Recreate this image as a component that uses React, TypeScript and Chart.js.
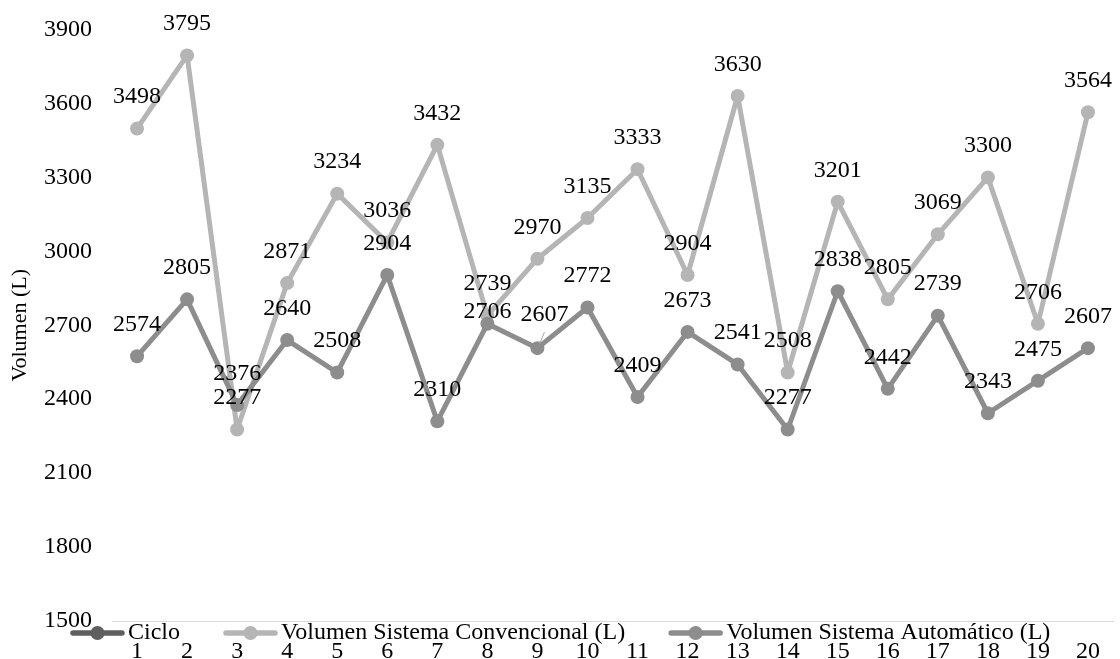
import React, { useEffect, useRef } from 'react';
import { Chart, registerables } from 'chart.js';

Chart.register(...registerables);

const cycles = ['1', '2', '3', '4', '5', '6', '7', '8', '9', '10', '11', '12', '13', '14', '15', '16', '17', '18', '19', '20'];
const conventional = [3498, 3795, 2277, 2871, 3234, 3036, 3432, 2739, 2970, 3135, 3333, 2904, 3630, 2508, 3201, 2805, 3069, 3300, 2706, 3564];
const automatic = [2574, 2805, 2376, 2640, 2508, 2904, 2310, 2706, 2607, 2772, 2409, 2673, 2541, 2277, 2838, 2442, 2739, 2343, 2475, 2607];
const cicloValues: number[] = [];
const seriesNames = ['Ciclo', 'Volumen Sistema Convencional (L)', 'Volumen Sistema Automático (L)'];
const yMin = 1500;
const yMax = 3900;
const yStep = 300;
const yTitle = 'Volumen (L)';

const FONT = "'Liberation Serif', 'Times New Roman', serif";
const COLORS = ['#5f5f5f', '#b5b5b5', '#8d8d8d'];

const labelPlugin = {
  id: 'valueLabels',
  afterDatasetsDraw(chart: any) {
    const ctx = chart.ctx;
    const overrides: Record<string, { dx: number; dy: number; leader?: boolean }> = {
      '0:7': { dx: 0, dy: 12 },
      '0:8': { dx: 7, dy: 33, leader: true },
    };
    ctx.save();
    ctx.font = `24px ${FONT}`;
    ctx.fillStyle = '#000';
    ctx.textAlign = 'center';
    ctx.textBaseline = 'middle';
    chart.data.datasets.forEach((ds: any, di: number) => {
      if (!ds.showValues) return;
      const meta = chart.getDatasetMeta(di);
      meta.data.forEach((el: any, i: number) => {
        const o = overrides[`${di}:${i}`] || { dx: 0, dy: 31.5 };
        const tx = el.x + o.dx;
        const ty = el.y - o.dy;
        if (o.leader) {
          ctx.save();
          ctx.strokeStyle = '#a6a6a6';
          ctx.lineWidth = 1;
          ctx.beginPath();
          ctx.moveTo(el.x + 2, el.y - 4);
          ctx.lineTo(el.x + 7, el.y - 16);
          ctx.stroke();
          ctx.restore();
        }
        ctx.fillText(String(ds.data[i]), tx, ty);
      });
    });
    ctx.restore();
  },
};

const legendPlugin = {
  id: 'bottomLegend',
  afterDraw(chart: any) {
    const ctx = chart.ctx;
    ctx.save();
    ctx.font = `24px ${FONT}`;
    const items = seriesNames.map((name, i) => ({ name, color: COLORS[i], w: ctx.measureText(name).width }));
    const sw = 55;
    const tgap = 3;
    const gap = 43;
    let x = 70;
    const y = 633;
    items.forEach((it) => {
      ctx.strokeStyle = it.color;
      ctx.lineWidth = 5.5;
      ctx.lineCap = 'round';
      ctx.beginPath();
      ctx.moveTo(x + 3, y);
      ctx.lineTo(x + sw - 3, y);
      ctx.stroke();
      ctx.fillStyle = it.color;
      ctx.beginPath();
      ctx.arc(x + sw / 2, y, 7, 0, Math.PI * 2);
      ctx.fill();
      ctx.fillStyle = '#000';
      ctx.textAlign = 'left';
      ctx.textBaseline = 'middle';
      ctx.fillText(it.name, x + sw + tgap, y);
      x += sw + tgap + it.w + gap;
    });
    ctx.restore();
  },
};

export default function App() {
  const ref = useRef<HTMLCanvasElement | null>(null);
  useEffect(() => {
    if (!ref.current) return;
    const mk = (label: string, data: number[], color: string, order: number, showValues: boolean) => ({
      label,
      data,
      borderColor: color,
      backgroundColor: color,
      pointBackgroundColor: color,
      pointBorderWidth: 0,
      pointRadius: 7,
      borderWidth: 5,
      borderCapStyle: 'round',
      borderJoinStyle: 'round',
      tension: 0,
      order,
      showValues,
    });
    const chart = new Chart(ref.current, {
      type: 'line',
      data: {
        labels: cycles,
        datasets: [
          mk(seriesNames[2], automatic, COLORS[2], 0, true),
          mk(seriesNames[1], conventional, COLORS[1], 1, true),
          mk(seriesNames[0], cicloValues, COLORS[0], 2, false),
        ] as any,
      },
      options: {
        responsive: false,
        animation: false,
        layout: { padding: { top: 29.5, right: 2, left: 0, bottom: 0 } },
        plugins: {
          legend: { display: false },
          tooltip: { enabled: false },
        },
        scales: {
          x: {
            offset: true,
            grid: { display: false, drawTicks: false },
            border: { display: true, color: '#d9d9d9', width: 1 },
            ticks: { color: '#000', font: { family: FONT, size: 24 }, padding: 16, maxRotation: 0, autoSkip: false },
            afterFit: (s: any) => { s.height = 38; s.paddingLeft = 0; s.paddingRight = 0; },
          },
          y: {
            min: yMin,
            max: yMax,
            ticks: {
              stepSize: yStep,
              color: '#000',
              font: { family: FONT, size: 24 },
              padding: 20,
              callback: (v: any) => String(v),
            },
            grid: { display: false, drawTicks: false },
            border: { display: false },
            title: { display: true, text: yTitle, color: '#000', font: { family: FONT, size: 22 }, padding: { top: 7, bottom: 0 } },
            afterFit: (s: any) => { s.width = 112; s.paddingTop = 0; s.paddingBottom = 0; },
          },
        },
      },
      plugins: [labelPlugin, legendPlugin],
    });
    return () => chart.destroy();
  }, []);
  return (
    <div style={{ position: 'absolute', left: 0, top: 0, width: 1120, height: 659 }}>
      <canvas ref={ref} width={1120} height={659} style={{ display: 'block' }} />
    </div>
  );
}
